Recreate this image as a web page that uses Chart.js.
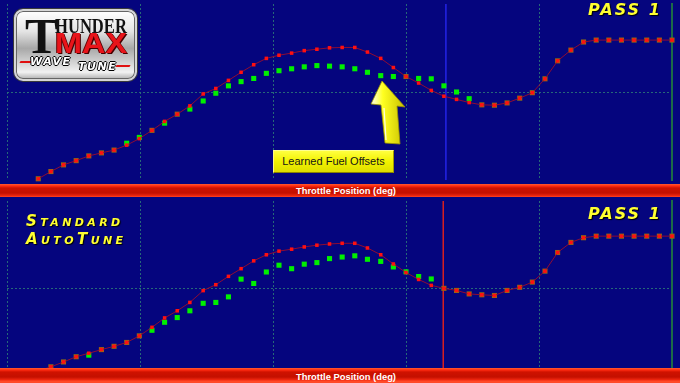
<!DOCTYPE html>
<html lang="en">
<head>
    <meta charset="UTF-8">
    <title>ThunderMax WaveTune - Pass 1</title>
    <script src="https://cdn.jsdelivr.net/npm/chart.js"></script>
    <style>
        html, body { margin: 0; padding: 0; }
        body { width: 680px; height: 383px; overflow: hidden; position: relative; background: #05057e; font-family: "Liberation Sans", Arial, sans-serif; }
        canvas { position: absolute; left: 0; }
        #topChart { top: 0; }
        #bottomChart { top: 197px; }
        .bar { position: absolute; left: 0; width: 680px; z-index: 5;
               background: linear-gradient(180deg, #ff5a30 0px, #ff2a10 2px, #cf1200 4px, #c41000 9px, #f22810 12px, #ff4a28 13px); }
        .bar span { position: absolute; left: 296px; color: #fff; font-weight: bold; font-size: 9.4px; white-space: nowrap; }
        .pass { position: absolute; left: 588px; color: #ffff30; font: italic bold 16px/16px "DejaVu Sans", sans-serif;
                letter-spacing: 2px; text-shadow: 1px 1px 1px #000; z-index: 4; }
        #std { position: absolute; left: 26px; top: 212px; color: #ffff30; font: italic bold 15px/18px "DejaVu Sans", sans-serif;
               font-variant: small-caps; letter-spacing: 3.4px; text-shadow: 1px 1px 1px #000; z-index: 4; }
        #logo { position: absolute; left: 14px; top: 9px; width: 119px; height: 68px; border-radius: 9px; z-index: 4;
                border: 2px solid #d6d6d6; box-shadow: 0 0 0 1px #3a3a3a, inset 0 0 0 1px #666;
                background: linear-gradient(180deg, #ffffff 0%, #e4e4e4 30%, #a8a8a8 55%, #d8d8d8 78%, #f2f2f2 90%, #b0b0b0 100%); overflow: hidden; }
        #logo span { position: absolute; white-space: nowrap; }
        .t { left: 9px; top: 0; font: bold 50px/50px "Liberation Serif", serif; color: #111; }
        .hunder { left: 39px; top: 5px; font: bold 21px/21px "Liberation Serif", serif; color: #111; transform: scaleX(0.79); transform-origin: left top; }
        .max { left: 39px; top: 18px; font: bold 29px/29px "Liberation Sans", Arial, sans-serif; color: #e8141a;
               transform: scaleX(1.12); transform-origin: left top; text-shadow: 1px 1px 0 #400, -1px 0 0 #600; }
        .wave { font: italic bold 11px/11px "DejaVu Sans", sans-serif; color: #fff; letter-spacing: 1.5px;
                text-shadow: 1px 0 0 #000, -1px 0 0 #000, 0 1px 0 #000, 0 -1px 0 #000; }
        .swoosh { height: 2px; background: #e01010; transform: skewX(-30deg); }
        #arrow { position: absolute; left: 0; top: 0; z-index: 4; }
        #note { position: absolute; left: 273px; top: 150px; width: 119px; height: 21px; z-index: 4;
                background: linear-gradient(180deg, #ffff40 0%, #f2f200 50%, #dede00 100%);
                border: 1px solid; border-color: #ffff90 #a09a00 #8a8400 #fff880;
                font-size: 11px; line-height: 21px; text-align: center; color: #151515; }
    </style>
</head>
<body>
    <canvas id="topChart" width="680" height="184"></canvas>
    <canvas id="bottomChart" width="680" height="186"></canvas>

    <!-- logo -->
    <div id="logo">
        <span class="t">T</span>
        <span class="hunder">HUNDER</span>
        <span class="max">MAX</span>
        <span class="swoosh" style="left:4px; top:50px; width:12px;"></span>
        <span class="wave" style="left:14px; top:45px;">WAVE</span>
        <span class="wave" style="left:62px; top:50px;">TUNE</span>
        <span class="swoosh" style="left:100px; top:54px; width:14px;"></span>
    </div>

    <div class="pass" style="top:2px;">PASS 1</div>
    <div class="pass" style="top:206px;">PASS 1</div>
    <div id="std">Standard<br>AutoTune</div>

    <svg id="arrow" width="680" height="200">
        <defs>
            <linearGradient id="ag" x1="0" y1="0" x2="1" y2="0">
                <stop offset="0" stop-color="#fffff0"/>
                <stop offset="0.35" stop-color="#ffff20"/>
                <stop offset="1" stop-color="#c8c000"/>
            </linearGradient>
        </defs>
        <polygon points="382,81 405,107 397,106 400,144 385,143 381,105 371,104" fill="url(#ag)" stroke="#9a9400" stroke-width="0.8"/>
        <line x1="384" y1="108" x2="386" y2="140" stroke="#ffffe0" stroke-width="1.2"/>
    </svg>
    <div id="note">Learned Fuel Offsets</div>

    <div class="bar" style="top:184px; height:13px;"><span style="top:0; line-height:13px;">Throttle Position (deg)</span></div>
    <div class="bar" style="top:368px; height:15px;"><span style="top:2px; line-height:13px;">Throttle Position (deg)</span></div>

    <script>
        // throttle position of each sample (deg)
        const throttle = [4.7, 6.6, 8.5, 10.4, 12.3, 14.2, 16.1, 18.0, 19.9, 21.8,
                          23.7, 25.6, 27.5, 29.5, 31.4, 33.3, 35.2, 37.1, 39.0, 40.9,
                          42.8, 44.7, 46.6, 48.5, 50.4, 52.3, 54.2, 56.2, 58.1, 60.0,
                          61.9, 63.8, 65.7, 67.6, 69.5, 71.4, 73.3, 75.2, 77.1, 79.0,
                          80.9, 82.8, 84.8, 86.7, 88.6, 90.5, 92.4, 94.3, 96.2, 98.1, 100.0];
        const gridTicks = [0, 20, 40, 60, 80];

        // WaveTune pass 1: fuel curve (red) and learned offsets (green)
        const waveFuel = [0.7, 4.8, 8.6, 11.0, 13.7, 15.4, 17.0, 19.8, 23.5, 28.2,
                          33.3, 37.4, 42.1, 48.9, 52.0, 56.6, 61.2, 65.5, 69.1, 70.9,
                          72.1, 73.5, 74.3, 75.1, 75.3, 75.3, 72.7, 69.1, 63.9, 58.8,
                          55.1, 50.9, 47.6, 45.8, 44.0, 42.7, 42.5, 43.8, 46.5, 49.6,
                          57.5, 67.7, 73.8, 78.4, 79.5, 79.5, 79.5, 79.5, 79.5, 79.5, 79.5];
        const waveOffsets = [0.7, 4.8, 8.6, 11.0, 13.7, 15.4, 17.0, 20.9, 24.2, 28.2,
                             32.3, 37.4, 40.3, 44.9, 49.3, 53.5, 55.9, 57.7, 60.6, 62.1,
                             63.2, 64.3, 65.0, 64.7, 64.3, 63.2, 61.2, 59.3, 58.8, 58.8,
                             57.7, 57.5, 53.5, 50.0, 46.2, 42.7, 42.5, 43.8, 46.5, 49.6,
                             57.5, 67.7, 73.8, 78.4, 79.5, 79.5, 79.5, 79.5, 79.5, 79.5, 79.5];

        // Standard AutoTune pass 1
        const stdFuel = [2.2, 4.7, 7.5, 10.5, 12.5, 14.6, 16.5, 18.7, 22.5, 27.4,
                         32.8, 36.9, 41.7, 48.5, 51.9, 56.7, 61.1, 65.6, 69.1, 71.2,
                         72.3, 73.6, 74.6, 75.3, 75.7, 75.7, 73.0, 69.1, 63.8, 58.9,
                         54.9, 51.5, 49.8, 48.6, 46.6, 46.1, 45.7, 48.6, 50.4, 53.4,
                         59.7, 70.4, 76.2, 78.9, 79.8, 79.8, 79.8, 79.8, 79.8, 79.8, 79.8];
        const stdOffsets = [2.2, 4.7, 7.5, 10.5, 11.4, 14.6, 16.5, 18.7, 22.5, 25.7,
                            30.3, 33.0, 36.9, 41.2, 41.7, 44.9, 55.1, 52.6, 59.2, 63.1,
                            61.1, 63.7, 64.6, 66.9, 67.8, 68.5, 66.5, 65.3, 62.1, 59.3,
                            56.6, 55.2, 49.8, 48.6, 46.6, 46.1, 45.7, 48.6, 50.4, 53.4,
                            59.7, 70.4, 76.2, 78.9, 79.8, 79.8, 79.8, 79.8, 79.8, 79.8, 79.8];

        // cursor positions (deg)
        const waveCursor = 66.0;
        const stdCursor = 65.6;

        function pts(ys) {
            return ys.map((v, i) => ({ x: throttle[i], y: v }));
        }

        function makeChart(id, fuel, offsets, cursor, cursorColor, padBottom) {
            return new Chart(document.getElementById(id), {
                type: 'line',
                data: {
                    datasets: [{
                        data: pts(fuel),
                        borderColor: '#8e0c34',
                        borderWidth: 1,
                        pointStyle: 'rect',
                        pointRadius: 2.5,
                        pointBorderWidth: 0,
                        pointBackgroundColor: '#ff1010',
                        clip: false
                    }, {
                        data: pts(offsets),
                        showLine: false,
                        pointStyle: 'rect',
                        pointRadius: 3.6,
                        pointBorderWidth: 0,
                        // where the offset sits on the fuel curve the square shows brownish
                        pointBackgroundColor: (c) => Math.abs(offsets[c.dataIndex] - fuel[c.dataIndex]) < 0.05 ? '#8e6e14' : '#00f000',
                        clip: false
                    }, {
                        data: [{ x: cursor, y: 0 }, { x: cursor, y: 200 }],
                        borderColor: cursorColor,
                        borderWidth: 1.5,
                        pointRadius: 0
                    }]
                },
                options: {
                    responsive: false,
                    animation: false,
                    devicePixelRatio: 1,
                    layout: { padding: { left: 7, right: 8, top: 0, bottom: padBottom } },
                    plugins: { legend: { display: false }, tooltip: { enabled: false } },
                    scales: {
                        x: {
                            type: 'linear', min: 0, max: 100,
                            afterBuildTicks: (axis) => { axis.ticks = gridTicks.map(v => ({ value: v })); },
                            ticks: { display: false },
                            grid: { color: 'rgba(40,110,120,0.95)', lineWidth: 1, drawTicks: false },
                            border: { display: false, dash: [2, 2] }
                        },
                        y: {
                            position: 'right', min: 0, max: 100,
                            afterBuildTicks: (axis) => { axis.ticks = [{ value: 50 }]; },
                            ticks: { display: false },
                            grid: { color: 'rgba(40,110,120,0.95)', lineWidth: 1, drawTicks: false },
                            border: { display: true, color: '#1c6a48', width: 2, dash: [2, 2] }
                        }
                    }
                }
            });
        }

        makeChart('topChart', waveFuel, waveOffsets, waveCursor, '#2424e8', 2);
        makeChart('bottomChart', stdFuel, stdOffsets, stdCursor, '#d82020', 8);
    </script>
</body>
</html>
